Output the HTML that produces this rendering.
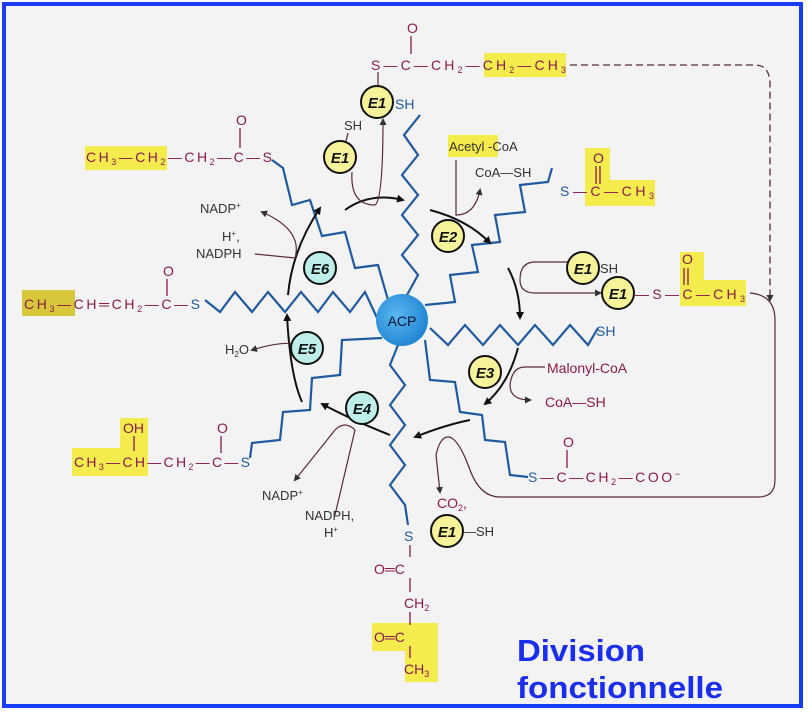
<!DOCTYPE html>
<html><head><meta charset="utf-8"><style>
html,body{margin:0;padding:0;background:#fff}
svg{display:block}
.m{font-family:"Liberation Sans Narrow","Liberation Sans",sans-serif;font-size:14px;fill:#8a1a4c}
.k{font-family:"Liberation Sans Narrow","Liberation Sans",sans-serif;font-size:13px;fill:#333}
.b{font-family:"Liberation Sans Narrow","Liberation Sans",sans-serif;font-size:14px;fill:#1f5aa0}
.e{font-family:"Liberation Sans",sans-serif;font-size:15px;font-weight:bold;font-style:italic;fill:#111}
.z{fill:none;stroke:#1f5aa0;stroke-width:2.2;stroke-linejoin:miter}
.a{fill:none;stroke:#111;stroke-width:2}
.t{fill:none;stroke:#5a2a35;stroke-width:1.2}
.bd{stroke:#8a1a4c;stroke-width:1.3}
</style></head><body>
<svg width="808" height="712" viewBox="0 0 808 712" xmlns="http://www.w3.org/2000/svg">
<defs>
<marker id="ar" markerWidth="8" markerHeight="8" refX="6" refY="4" orient="auto" markerUnits="userSpaceOnUse"><path d="M0,0 L8,4 L0,8 z" fill="#111"/></marker>
<marker id="ar2" markerWidth="7" markerHeight="7" refX="5" refY="3.5" orient="auto" markerUnits="userSpaceOnUse"><path d="M0,0 L7,3.5 L0,7 z" fill="#333"/></marker>
<radialGradient id="g" cx="0.4" cy="0.4" r="0.7"><stop offset="0" stop-color="#5ab8f0"/><stop offset="1" stop-color="#1a7fd0"/></radialGradient>
</defs>
<rect x="0" y="0" width="808" height="712" fill="#fff"/>
<rect x="4" y="4" width="797" height="702" fill="#f3f3f3" stroke="#1a3cf5" stroke-width="4"/>

<!-- highlights -->
<g fill="#f3ec4c">
<rect x="484" y="53" width="82" height="24"/>
<rect x="85" y="146" width="82" height="24"/>
<rect x="448" y="135" width="50" height="22"/>
<rect x="585" y="180" width="70" height="26"/><rect x="585" y="148" width="25" height="58"/>
<rect x="22" y="290" width="53" height="26" fill="#d6c83a"/>
<rect x="680" y="280" width="66" height="26"/><rect x="680" y="252" width="24" height="54"/>
<rect x="72" y="448" width="76" height="28"/><rect x="120" y="418" width="28" height="58"/>
<rect x="372" y="623" width="66" height="28"/><rect x="405" y="650" width="33" height="32"/>
</g>

<!-- blue chains -->
<path class="z" d="M388,300 L378,265 L355,268 L345,232 L322,236 L310,200 L292,205 L283,168 L272,160"/>
<path class="z" d="M407,295 L418,275 L402,255 L418,235 L402,215 L418,195 L402,175 L418,155 L404,135 L420,115"/>
<path class="z" d="M425,305 L455,302 L450,275 L478,272 L472,245 L500,242 L495,215 L525,212 L520,185 L548,182 L552,168"/>
<path class="z" d="M430,328 L448,345 L465,325 L483,345 L500,325 L518,345 L535,325 L553,345 L570,325 L588,345 L598,328"/>
<path class="z" d="M425,340 L430,380 L455,382 L460,412 L482,415 L485,440 L505,442 L510,475 L528,477"/>
<path class="z" d="M398,345 L390,365 L405,385 L390,405 L405,425 L390,445 L405,465 L390,485 L405,505 L408,525"/>
<path class="z" d="M382,338 L342,340 L340,375 L312,378 L310,410 L283,412 L280,440 L252,443 L250,458"/>
<path class="z" d="M378,320 L365,292 L350,312 L333,292 L318,312 L301,292 L285,312 L268,292 L252,312 L235,292 L220,312 L205,300"/>

<circle cx="402" cy="320" r="26" fill="url(#g)"/>
<text x="402" y="326" text-anchor="middle" font-family="Liberation Sans,sans-serif" font-size="14" fill="#113">ACP</text>

<path d="M570,65 L755,65 Q770,65 770,85 L770,300" fill="none" stroke="#5a2a35" stroke-width="1.3" stroke-dasharray="7,4" marker-end="url(#ar2)"/>
<path class="t" d="M750,293 Q775,295 775,320 L775,480 Q775,497 758,497 L500,497 Q480,497 470,470 Q458,437 448,437 Q440,437 436,455 L440,492" marker-end="url(#ar2)"/>

<path class="a" d="M345,210 Q370,192 403,200" marker-end="url(#ar)"/>
<path class="a" d="M430,210 Q468,220 490,243" marker-end="url(#ar)"/>
<path class="a" d="M508,268 Q520,290 520,318" marker-end="url(#ar)"/>
<path class="a" d="M518,348 Q508,385 485,404" marker-end="url(#ar)"/>
<path class="a" d="M470,420 Q445,425 415,437" marker-end="url(#ar)"/>
<path class="a" d="M390,435 Q352,420 322,404" marker-end="url(#ar)"/>
<path class="a" d="M302,402 Q290,375 287,315" marker-end="url(#ar)"/>
<path class="a" d="M288,295 Q292,250 320,208" marker-end="url(#ar)"/>

<path class="t" d="M352,172 Q350,205 375,205 Q383,200 383,120" marker-end="url(#ar2)"/>
<path class="t" d="M456,160 L456,215 Q475,215 480,190" marker-end="url(#ar2)"/>
<path class="t" d="M568,262 L535,262 Q520,262 520,280 Q520,293 535,293 L600,293" marker-end="url(#ar2)"/>
<path class="t" d="M545,367 L525,367 Q512,367 510,385 Q510,400 530,400" marker-end="url(#ar2)"/>
<path class="t" d="M255,254 L295,258 Q303,230 262,212" marker-end="url(#ar2)"/>
<path class="t" d="M300,345 Q285,340 252,350" marker-end="url(#ar2)"/>
<path class="t" d="M335,515 L355,430 Q345,420 335,430 L295,480" marker-end="url(#ar2)"/>

<g stroke="#111" stroke-width="2">
<circle cx="377" cy="102" r="16" fill="#f6f29a"/>
<circle cx="340" cy="157" r="16" fill="#f6f29a"/>
<circle cx="448" cy="236" r="16" fill="#f6f29a"/>
<circle cx="583" cy="268" r="16" fill="#f6f29a"/>
<circle cx="618" cy="293" r="16" fill="#f6f29a"/>
<circle cx="485" cy="372" r="16" fill="#f6f29a"/>
<circle cx="447" cy="531" r="16" fill="#f6f29a"/>
<circle cx="362" cy="408" r="16" fill="#bdeeea"/>
<circle cx="307" cy="348" r="16" fill="#bdeeea"/>
<circle cx="320" cy="268" r="16" fill="#bdeeea"/>
</g>
<g class="e" text-anchor="middle">
<text x="377" y="108">E1</text><text x="340" y="163">E1</text><text x="448" y="242">E2</text>
<text x="583" y="274">E1</text><text x="618" y="299">E1</text><text x="485" y="378">E3</text>
<text x="447" y="537">E1</text><text x="362" y="414">E4</text><text x="307" y="354">E5</text><text x="320" y="274">E6</text>
</g>

<text class="m" x="371" y="70" textLength="195" lengthAdjust="spacing">S—C—CH<tspan font-size="9" dy="3">2</tspan><tspan dy="-3">—CH</tspan><tspan font-size="9" dy="3">2</tspan><tspan dy="-3">—CH</tspan><tspan font-size="9" dy="3">3</tspan></text>
<text class="m" x="407" y="33">O</text><line class="bd" x1="411" y1="36" x2="411" y2="54"/>
<line class="t" x1="378" y1="72" x2="378" y2="86"/>
<text class="b" x="395" y="109">SH</text>
<text class="k" x="344" y="130">SH</text><line class="t" x1="348" y1="133" x2="346" y2="141"/>

<text class="m" x="86" y="162" textLength="186" lengthAdjust="spacing">CH<tspan font-size="9" dy="3">3</tspan><tspan dy="-3">—CH</tspan><tspan font-size="9" dy="3">2</tspan><tspan dy="-3">—CH</tspan><tspan font-size="9" dy="3">2</tspan><tspan dy="-3">—C—S</tspan></text>
<text class="m" x="236" y="125">O</text><line class="bd" x1="240" y1="128" x2="240" y2="148"/>

<text class="k" x="449" y="151">Acetyl -CoA</text>
<text class="k" x="475" y="177">CoA—SH</text>
<text class="m" x="560" y="196" textLength="94" lengthAdjust="spacing"><tspan fill="#1f5aa0">S</tspan>—C—CH<tspan font-size="9" dy="3">3</tspan></text>
<text class="m" x="593" y="163">O</text><line class="bd" x1="596" y1="166" x2="596" y2="184"/><line class="bd" x1="600" y1="166" x2="600" y2="184"/>

<text class="k" x="200" y="213">NADP<tspan font-size="8" dy="-5">+</tspan></text>
<text class="k" x="222" y="241">H<tspan font-size="8" dy="-5">+</tspan><tspan dy="5">,</tspan></text>
<text class="k" x="196" y="258">NADPH</text>

<text class="m" x="24" y="309" textLength="176" lengthAdjust="spacing">CH<tspan font-size="9" dy="3">3</tspan><tspan dy="-3">—CH═CH</tspan><tspan font-size="9" dy="3">2</tspan><tspan dy="-3">—C—</tspan><tspan fill="#1f5aa0">S</tspan></text>
<text class="m" x="163" y="276">O</text><line class="bd" x1="167" y1="279" x2="167" y2="296"/>

<text class="k" x="600" y="273">SH</text>
<text class="m" x="635" y="299" fill="#333" textLength="110" lengthAdjust="spacing">—S—C—CH<tspan font-size="9" dy="3">3</tspan></text>
<text class="m" x="682" y="264">O</text><line class="bd" x1="684" y1="268" x2="684" y2="285"/><line class="bd" x1="688" y1="268" x2="688" y2="285"/>
<text class="b" x="596" y="336">SH</text>

<text class="k" x="225" y="354">H<tspan font-size="8" dy="3">2</tspan><tspan dy="-3">O</tspan></text>
<text class="m" x="547" y="373">Malonyl-CoA</text>
<text class="m" x="545" y="407">CoA—SH</text>

<text class="m" x="528" y="482" textLength="152" lengthAdjust="spacing"><tspan fill="#1f5aa0">S</tspan>—C—CH<tspan font-size="9" dy="3">2</tspan><tspan dy="-3">—COO</tspan><tspan font-size="9" dy="-5">−</tspan></text>
<text class="m" x="563" y="447">O</text><line class="bd" x1="567" y1="450" x2="567" y2="468"/>

<text class="m" x="123" y="433">OH</text><line class="bd" x1="134" y1="436" x2="134" y2="451"/>
<text class="m" x="74" y="467" textLength="176" lengthAdjust="spacing">CH<tspan font-size="9" dy="3">3</tspan><tspan dy="-3">—CH—CH</tspan><tspan font-size="9" dy="3">2</tspan><tspan dy="-3">—C—</tspan><tspan fill="#1f5aa0">S</tspan></text>
<text class="m" x="217" y="433">O</text><line class="bd" x1="221" y1="436" x2="221" y2="453"/>

<text class="k" x="262" y="500">NADP<tspan font-size="8" dy="-5">+</tspan></text>
<text class="k" x="305" y="520">NADPH,</text>
<text class="k" x="324" y="537">H<tspan font-size="8" dy="-5">+</tspan></text>
<text class="m" x="437" y="508">CO<tspan font-size="9" dy="3">2</tspan><tspan dy="-3">,</tspan></text>
<text class="k" x="463" y="536">—SH</text>

<text class="b" x="404" y="541">S</text>
<line class="bd" x1="410" y1="545" x2="410" y2="557"/>
<text class="m" x="374" y="574">O═C</text>
<line class="bd" x1="410" y1="578" x2="410" y2="592"/>
<text class="m" x="404" y="608">CH<tspan font-size="9" dy="3">2</tspan></text>
<line class="bd" x1="410" y1="612" x2="410" y2="625"/>
<text class="m" x="374" y="642">O═C</text>
<line class="bd" x1="410" y1="646" x2="410" y2="658"/>
<text class="m" x="404" y="674">CH<tspan font-size="9" dy="3">3</tspan></text>

<text x="517" y="661" font-family="Liberation Sans,sans-serif" font-size="31" font-weight="bold" fill="#1a2ef0" textLength="128" lengthAdjust="spacingAndGlyphs">Division</text>
<text x="517" y="698" font-family="Liberation Sans,sans-serif" font-size="31" font-weight="bold" fill="#1a2ef0" textLength="206" lengthAdjust="spacingAndGlyphs">fonctionnelle</text>
</svg>
</body></html>
